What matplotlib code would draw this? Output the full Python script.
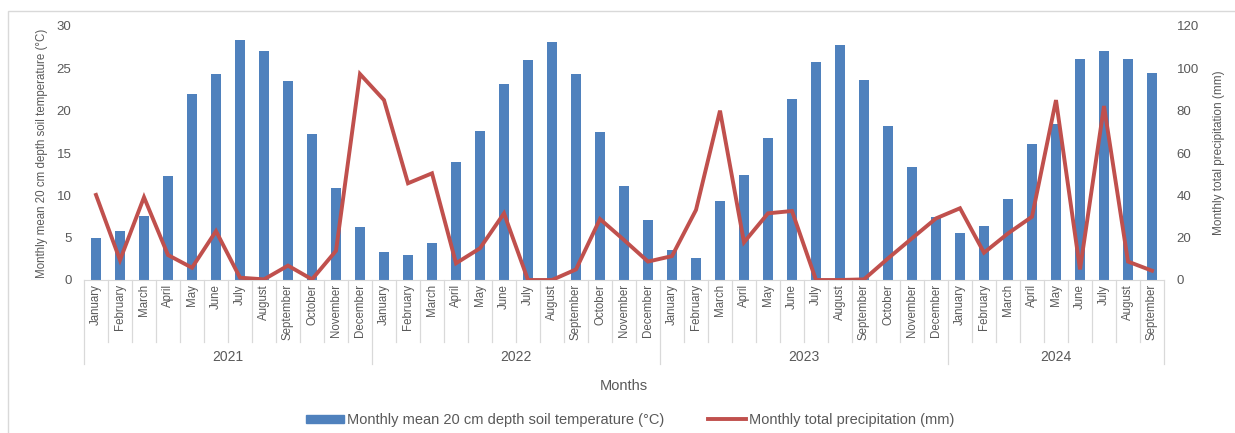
import matplotlib
matplotlib.use("Agg")
import matplotlib.pyplot as plt
from matplotlib.patches import Rectangle
from matplotlib.lines import Line2D
from matplotlib.transforms import blended_transform_factory

plt.rcParams['font.family'] = ['Liberation Sans', 'DejaVu Sans']

# Year groups and their months
years = ["2021", "2022", "2023", "2024"]
months_full = ["January", "February", "March", "April", "May", "June", "July",
               "August", "September", "October", "November", "December"]
months_per_year = [12, 12, 12, 9]

# Monthly mean 20 cm depth soil temperature (°C)
soil_temp = [5.0, 5.75, 7.55, 12.3, 22.0, 24.35, 28.4, 27.05, 23.45, 17.2, 10.9, 6.25,
             3.25, 2.95, 4.35, 13.9, 17.6, 23.2, 25.95, 28.1, 24.35, 17.5, 11.05, 7.05,
             3.55, 2.65, 9.35, 12.45, 16.8, 21.4, 25.75, 27.8, 23.6, 18.2, 13.4, 7.45,
             5.6, 6.35, 9.6, 16.1, 18.4, 26.1, 27.1, 26.1, 24.45]

# Monthly total precipitation (mm)
precip = [40.2, 9.4, 39.1, 11.8, 5.8, 23.1, 1.1, 0.3, 6.8, 0.3, 13.8, 97.3,
          85.0, 45.7, 50.4, 7.9, 15.0, 31.5, 0.0, 0.0, 5.0, 28.8, 18.9, 8.7,
          11.3, 33.1, 80.0, 17.8, 31.5, 32.6, 0.0, 0.0, 0.3, 10.2, 19.7, 29.1,
          33.9, 12.9, 22.0, 29.9, 85.0, 5.0, 82.2, 8.7, 4.4]

month_labels = [m for n in months_per_year for m in months_full[:n]]
n = len(month_labels)
idx = list(range(n))

W, H = 1235, 433
fig = plt.figure(figsize=(W / 100, H / 100), dpi=100)

TEXT = "#595959"
GRID = "#d9d9d9"
BAR = "#4f81bd"
LINE = "#c0504d"

# Chart-area frame (top and left edges visible)
fig.patches.append(Rectangle((8 / W, -0.1), 1.2, (H - 11) / H + 0.1,
                             transform=fig.transFigure, fill=False,
                             edgecolor="#d9d9d9", linewidth=1.0))

ax = fig.add_axes([84 / W, (H - 280) / H, 1080 / W, 254 / H])
ax2 = ax.twinx()

ax.bar(idx, soil_temp, width=0.42, color=BAR, zorder=2)
ax2.plot(idx, precip, color=LINE, linewidth=2.8, solid_joinstyle="miter", zorder=3)

ax.set_xlim(-0.5, n - 0.5)
ax.set_ylim(0, 30)
ax2.set_ylim(0, 120)
ax.set_yticks(range(0, 31, 5))
ax2.set_yticks(range(0, 121, 20))

for a in (ax, ax2):
    for s in a.spines.values():
        s.set_visible(False)
    a.tick_params(axis="y", length=0, labelsize=9.5, labelcolor=TEXT, pad=9)
ax.spines["bottom"].set_visible(True)
ax.spines["bottom"].set_color(GRID)

# Month tick labels
ax.set_xticks(idx)
ax.set_xticklabels(month_labels, rotation=90, fontsize=8.3, color=TEXT, va="top")
ax.tick_params(axis="x", length=0, pad=3)

# Category separators and year group labels below the axis
tr = blended_transform_factory(ax.transData, ax.transAxes)
month_sep_depth = -62 / 254
year_sep_depth = -84 / 254
start = 0
year_bounds = [0]
for cnt in months_per_year:
    start += cnt
    year_bounds.append(start)
for k in range(n + 1):
    depth = year_sep_depth if k in year_bounds else month_sep_depth
    ax.add_line(Line2D([k - 0.5, k - 0.5], [0, depth], transform=tr,
                       color=GRID, linewidth=0.9, clip_on=False))
for y, a0, a1 in zip(years, year_bounds[:-1], year_bounds[1:]):
    ax.text((a0 + a1 - 1) / 2, -77 / 254, y, transform=tr, ha="center",
            va="center", fontsize=10, color=TEXT)

ax.text(0.5, -106 / 254, "Months", transform=ax.transAxes, ha="center",
        va="center", fontsize=10.5, color=TEXT)

ax.set_ylabel("Monthly mean 20 cm depth soil temperature (°C)", fontsize=8.3,
              color=TEXT, labelpad=6)
ax2.set_ylabel("Monthly total precipitation (mm)", fontsize=8.5, color=TEXT,
               labelpad=10)

handles = [Rectangle((0, 0), 1, 1, color=BAR),
           Line2D([0], [0], color=LINE, linewidth=2.8)]
fig.legend(handles, ["Monthly mean 20 cm depth soil temperature (°C)",
                     "Monthly total precipitation (mm)"],
           loc="center", bbox_to_anchor=(630 / W, (H - 420) / H), ncol=2,
           frameon=False, fontsize=10.5, labelcolor=TEXT, handlelength=2.6,
           handleheight=0.45, handletextpad=0.2, columnspacing=3.0)

fig.savefig("out.png", dpi=100)
